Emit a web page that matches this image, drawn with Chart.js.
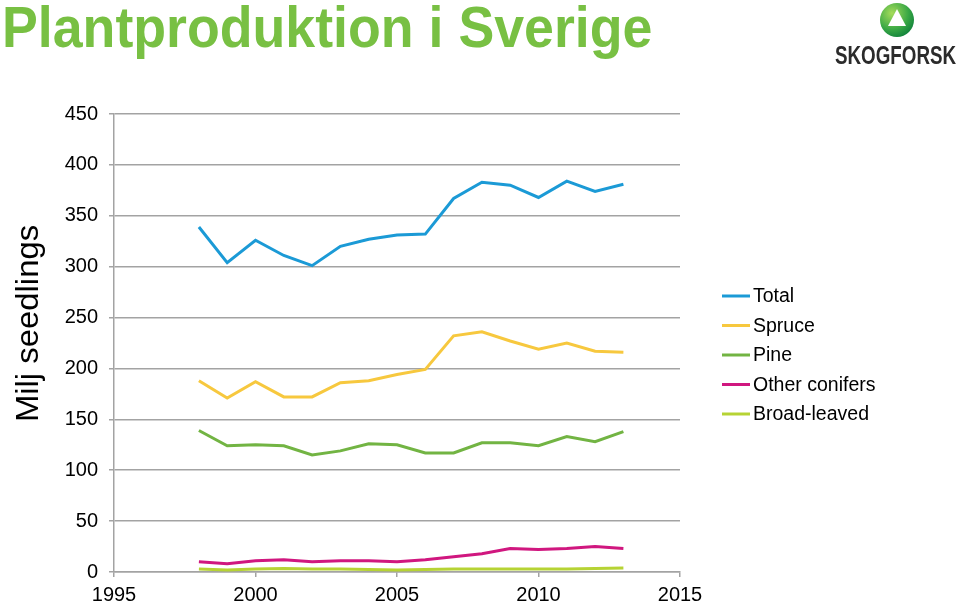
<!DOCTYPE html>
<html>
<head>
<meta charset="utf-8">
<script src="https://cdn.jsdelivr.net/npm/chart.js@4"></script>
<style>
  html, body { margin: 0; padding: 0; background: #fff; }
  #wrap { position: relative; width: 960px; height: 604px; overflow: hidden; }
  #chart { position: absolute; left: 0; top: 0; }
  #title {
    position: absolute; left: 2px; top: -6px; margin: 0;
    font-family: "Liberation Sans Narrow", "Liberation Sans", Arial, sans-serif;
    font-weight: bold; font-size: 57px; color: #78c043;
    white-space: nowrap; transform-origin: 0 0;
  }
  #logo { position: absolute; left: 830px; top: 0; width: 130px; height: 70px; }
  #logoText {
    position: absolute; left: 835px; top: 41px; margin: 0;
    font-family: "Liberation Sans Narrow", "Liberation Sans", Arial, sans-serif;
    font-weight: bold; font-size: 25px; color: #2b2b2b;
    white-space: nowrap; transform-origin: 0 0;
  }
</style>
</head>
<body>
<div id="wrap">
  <canvas id="chart" width="960" height="604"></canvas>
  <div id="title">Plantproduktion i Sverige</div>
  <svg id="logo" viewBox="830 0 130 70">
    <defs>
      <radialGradient id="g1" cx="0.35" cy="0.3" r="0.8">
        <stop offset="0" stop-color="#a6dc5a"/>
        <stop offset="0.6" stop-color="#3aa845"/>
        <stop offset="1" stop-color="#0a7d3a"/>
      </radialGradient>
    </defs>
    <circle cx="897" cy="20" r="17" fill="url(#g1)"/>
    <polygon points="897,9 906,26 888,26" fill="#fff"/>
  </svg>
  <div id="logoText">SKOGFORSK</div>
</div>
<script>
// years and series (Milj seedlings)
let years = [1998, 1999, 2000, 2001, 2002, 2003, 2004, 2005, 2006, 2007, 2008, 2009, 2010, 2011, 2012, 2013];
let total = [339, 304, 326, 311, 301, 320, 327, 331, 332, 367, 383, 380, 368, 384, 374, 381];
let spruce = [188, 171, 187, 172, 172, 186, 188, 194, 199, 232, 236, 227, 219, 225, 217, 216];
let pine = [139, 124, 125, 124, 115, 119, 126, 125, 117, 117, 127, 127, 124, 133, 128, 138];
let otherConifers = [10, 8, 11, 12, 10, 11, 11, 10, 12, 15, 18, 23, 22, 23, 25, 23];
let broadLeaved = [3, 2, 3, 3.5, 3, 3, 2.5, 2, 2.5, 3, 3, 3, 3, 3, 3.5, 4];

let seriesNames = ["Total", "Spruce", "Pine", "Other conifers", "Broad-leaved"];
let seriesValues = [total, spruce, pine, otherConifers, broadLeaved];
let seriesColors = ["#1b9ad6", "#f7c83e", "#72b443", "#d0177f", "#b6d334"];

let xTicks = [1995, 2000, 2005, 2010, 2015];
let yTicks = [0, 50, 100, 150, 200, 250, 300, 350, 400, 450];

// squeeze header texts to the reference width
function fitWidth(id, w) {
    let el = document.getElementById(id);
    el.style.transform = "scaleX(" + (w / el.scrollWidth) + ")";
}
fitWidth("title", 650);
fitWidth("logoText", 121);

const gridColor = "#a3a3a3";
const font = "'Liberation Sans', Arial, sans-serif";

// y title + legend drawn on the canvas
const extras = {
    id: "extras",
    afterDraw(chart) {
        let ctx = chart.ctx;
        ctx.save();
        ctx.fillStyle = "#000";
        ctx.font = "31px " + font;
        ctx.translate(38, 323.5);
        ctx.rotate(-Math.PI / 2);
        ctx.scale(1.06, 1);
        ctx.textAlign = "center";
        ctx.textBaseline = "alphabetic";
        ctx.fillText("Milj seedlings", 0, 0);
        ctx.restore();

        ctx.save();
        ctx.font = "19.5px " + font;
        ctx.textBaseline = "middle";
        ctx.fillStyle = "#000";
        chart.data.datasets.forEach(function (ds, i) {
            let y = 296 + i * 29.5;
            ctx.strokeStyle = ds.borderColor;
            ctx.lineWidth = 3;
            ctx.beginPath();
            ctx.moveTo(722, y);
            ctx.lineTo(750, y);
            ctx.stroke();
            ctx.fillText(ds.label, 753, y + 1);
        });
        ctx.restore();
    }
};

let ctx = document.getElementById("chart").getContext("2d");
new Chart(ctx, {
    type: "line",
    data: {
        datasets: seriesNames.map(function (name, i) {
            return {
                label: name,
                data: years.map(function (yr, j) { return { x: yr, y: seriesValues[i][j] }; }),
                borderColor: seriesColors[i],
                backgroundColor: seriesColors[i],
                borderWidth: 3,
                pointRadius: 0,
                tension: 0,
                fill: false
            };
        })
    },
    options: {
        responsive: false,
        animation: false,
        layout: { padding: { top: 114, right: 280, bottom: 0, left: 0 } },
        plugins: {
            legend: { display: false },
            tooltip: { enabled: false }
        },
        scales: {
            x: {
                type: "linear",
                min: xTicks[0],
                max: xTicks[xTicks.length - 1],
                afterFit: function (scale) { scale.height = 32; },
                afterBuildTicks: function (scale) {
                    scale.ticks = xTicks.map(function (v) { return { value: v }; });
                },
                ticks: {
                    color: "#000",
                    font: { family: font, size: 20 },
                    padding: 6,
                    maxRotation: 0,
                    callback: function (v) { return String(v); }
                },
                grid: { drawOnChartArea: false, drawTicks: true, tickLength: 5, color: gridColor, lineWidth: 1.5 },
                border: { color: gridColor, width: 1.5 }
            },
            y: {
                min: yTicks[0],
                max: yTicks[yTicks.length - 1],
                afterFit: function (scale) { scale.width = 114; },
                afterBuildTicks: function (scale) {
                    scale.ticks = yTicks.map(function (v) { return { value: v }; });
                },
                ticks: {
                    color: "#000",
                    font: { family: font, size: 20 },
                    padding: 11
                },
                grid: { color: gridColor, lineWidth: 1.5, tickLength: 5 },
                border: { color: gridColor, width: 1.5 }
            }
        }
    },
    plugins: [extras]
});
</script>
</body>
</html>
